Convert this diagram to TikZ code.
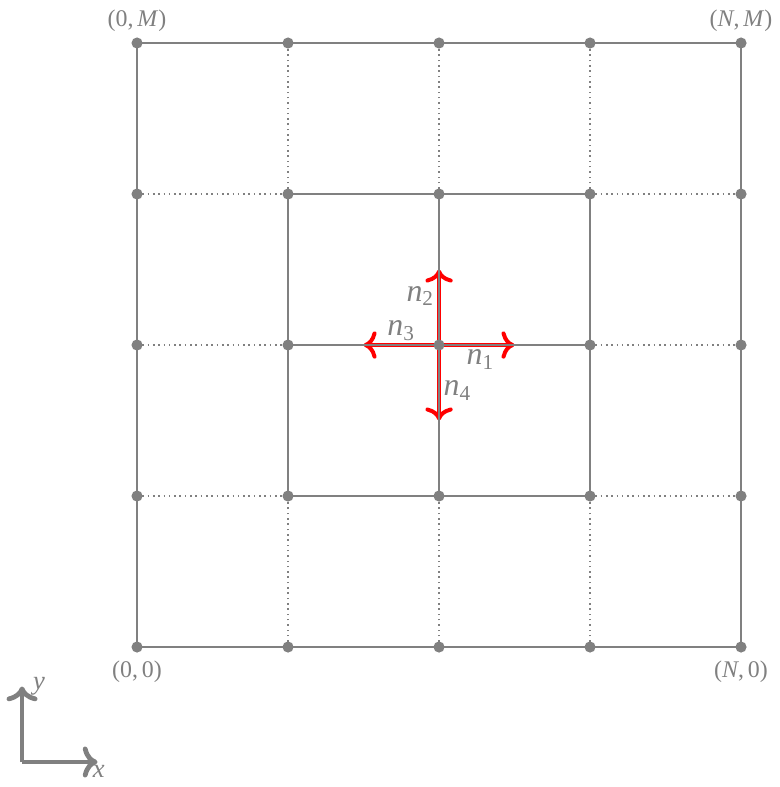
\documentclass[tikz,border=0pt]{standalone}
\usepackage{fontspec}
\setmainfont{Liberation Serif}
\usetikzlibrary{arrows.meta,positioning}
\tikzset{gridline/.style={draw=gray,line width=0.6pt},
 dotline/.style={draw=gray,line width=0.6pt,dash pattern=on 0.6pt off 1.4pt},
 vertex/.style={circle,fill=gray,inner sep=0pt,minimum size=4.2pt},
 corner/.style={font=\small,text=gray,inner sep=2pt},
 normal/.style={draw=red,line width=1.5pt,-{To[scale=1.0]}},
 axis/.style={draw=gray,line width=1.8pt,-{To[scale=1.0]}},
 lbl/.style={text=gray,font=\large,inner sep=1pt}}

\begin{document}
\begin{tikzpicture}[x=1cm,y=1cm]
\useasboundingbox (-1.815,-1.854) rectangle (8.503,8.570);
% lattice points
\foreach \i in {0,...,4}
 \foreach \j in {0,...,4}
  \coordinate (p\i\j) at (2*\i,2*\j);
% dotted links towards the boundary
\foreach \k in {1,2,3}{
 \draw[dotline] (p\k0)--(p\k1);
 \draw[dotline] (p\k3)--(p\k4);
 \draw[dotline] (p0\k)--(p1\k);
 \draw[dotline] (p3\k)--(p4\k);
}
% outward normals at the centre
\coordinate[right=1cm of p22] (e1);
\coordinate[above=1cm of p22] (e2);
\coordinate[left=1cm of p22] (e3);
\coordinate[below=1cm of p22] (e4);
\draw[normal] (p22)--node[lbl,pos=0.55,below]{\textit{n}\textsubscript{1}}(e1);
\draw[normal] (p22)--node[lbl,pos=0.65,left]{\textit{n}\textsubscript{2}}(e2);
\draw[normal] (p22)--node[lbl,pos=0.5,above]{\textit{n}\textsubscript{3}}(e3);
\draw[normal] (p22)--node[lbl,pos=0.6,right]{\textit{n}\textsubscript{4}}(e4);
% solid cells
\draw[gridline] (p00) rectangle (p44);
\draw[gridline] (p11) rectangle (p33);
\draw[gridline] (p21)--(p23) (p12)--(p32);
\foreach \i in {0,...,4}
 \foreach \j in {0,...,4}
  \node[vertex] (v\i\j) at (p\i\j) {};
% corner labels
\node[corner,above=2pt of p04] (c0M) {(0,\,\textit{M})};
\node[corner,above=2pt of p44] (cNM) {(\textit{N},\,\textit{M})};
\node[corner,below=3pt of p00] (c00) {(0,\,0)};
\node[corner,below=3pt of p40] (cN0) {(\textit{N},\,0)};
% axes
\coordinate (o) at (-1.523,-1.523);
\coordinate[above=1cm of o] (ya);
\coordinate[right=1cm of o] (xa);
\draw[axis] (o)--(xa);
\draw[axis] (o)--(ya);
\node[text=gray,anchor=north west,inner sep=0pt,xshift=-2pt,yshift=-1pt] (xl) at (xa) {\textit{x}};
\node[text=gray,anchor=west,inner sep=0pt,xshift=4pt] (yl) at (ya) {\textit{y}};
\end{tikzpicture}
\end{document}
